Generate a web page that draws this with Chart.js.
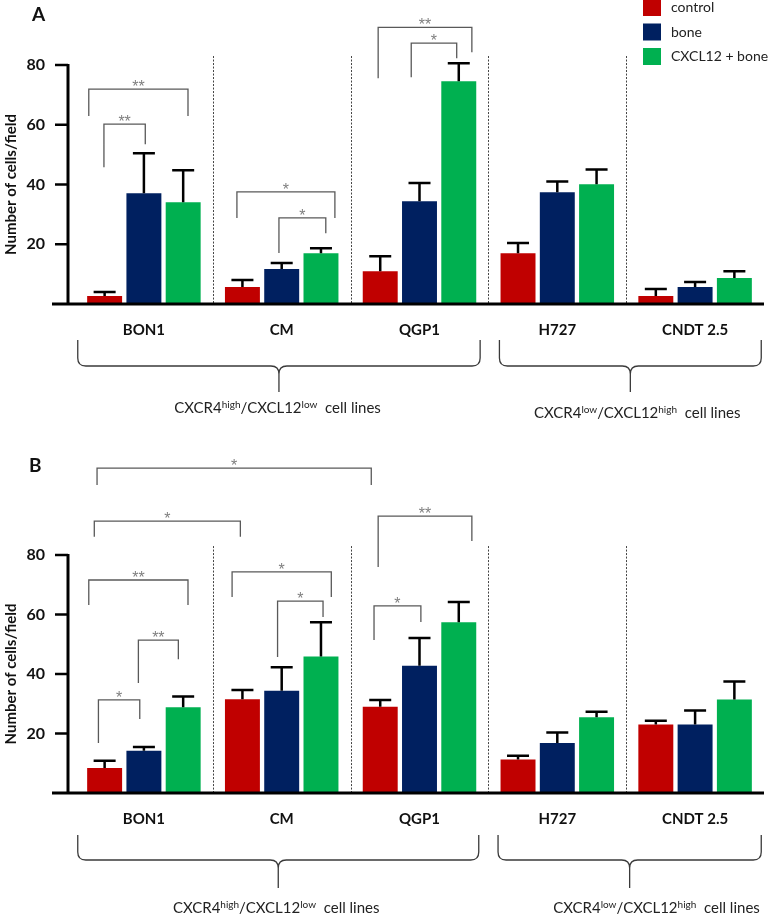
<!DOCTYPE html>
<html>
<head>
<meta charset="utf-8">
<script src="https://cdn.jsdelivr.net/npm/chart.js@4.4.1/dist/chart.umd.min.js"></script>
<style>
  html, body { margin: 0; padding: 0; background: #fff; }
  #wrap { position: relative; width: 772px; height: 917px; overflow: hidden; }
  canvas { position: absolute; left: 0; }
  #panelA { top: 0; }
  #panelB { top: 430px; }
</style>
</head>
<body>
<div id="wrap">
  <canvas id="panelA" width="772" height="430"></canvas>
  <canvas id="panelB" width="772" height="487"></canvas>
</div>
<script>
// categories and series
const cellLines = ['BON1', 'CM', 'QGP1', 'H727', 'CNDT 2.5'];
const seriesNames = ['control', 'bone', 'CXCL12 + bone'];
const yTickLabels = [20, 40, 60, 80];

// panel A: mean and error (upper SD) per cell line
const controlA = [2.7, 5.7, 11.0, 17.0, 2.7];
const boneA = [37.1, 11.7, 34.4, 37.4, 5.7];
const cxclBoneA = [34.1, 17.0, 74.6, 40.1, 8.7];
const controlErrA = [1.3, 2.3, 5.0, 3.4, 2.3];
const boneErrA = [13.4, 2.0, 6.1, 3.6, 1.7];
const cxclBoneErrA = [10.7, 1.7, 6.0, 4.9, 2.3];

// panel B
const controlB = [8.4, 31.5, 29.0, 11.3, 23.0];
const boneB = [14.2, 34.4, 42.8, 16.8, 23.0];
const cxclBoneB = [28.8, 45.9, 57.4, 25.5, 31.4];
const controlErrB = [2.4, 3.1, 2.3, 1.2, 1.3];
const boneErrB = [1.3, 7.9, 9.3, 3.5, 4.7];
const cxclBoneErrB = [3.6, 11.5, 6.8, 1.8, 6.1];

// significance brackets: [from, to (category units), top, left end, right end (value units), label]
const bracketsA = [
  [-0.40, 0.32, 71.9, 62.9, 62.9, '**'],
  [-0.29, 0.01, 60.2, 45.8, 53.5, '**'],
  [0.675, 1.386, 37.5, 28.8, 28.8, '*'],
  [0.98, 1.32, 28.8, 17.1, 23.7, '*'],
  [1.70, 2.38, 92.6, 75.6, 84.3, '**'],
  [1.94, 2.27, 87.3, 75.9, 82.3, '*']
];
const bracketsB = [
  [-0.34, 1.65, 109.2, 103.5, 103.5, '*'],
  [-0.36, 0.70, 91.4, 86.1, 86.1, '*'],
  [-0.40, 0.32, 71.6, 63.2, 63.2, '**'],
  [-0.04, 0.25, 51.4, 37.0, 45.0, '**'],
  [-0.33, -0.03, 31.3, 16.8, 24.9, '*'],
  [0.64, 1.36, 74.3, 65.9, 65.9, '*'],
  [0.97, 1.30, 64.5, 45.7, 59.2, '*'],
  [1.70, 2.38, 93.1, 76.0, 84.7, '**'],
  [1.67, 2.01, 62.9, 51.4, 57.5, '*']
];

const seriesColors = ['#C00000', '#002060', '#00B050'];

const highLow = [['CXCR4'], ['high', 1], ['/CXCL12'], ['low', 1], ['  cell lines']];
const lowHigh = [['CXCR4'], ['low', 1], ['/CXCL12'], ['high', 1], ['  cell lines']];

function drawRich(ctx, parts, cx, y) {
  const fMain = '15px Lato', fSup = '10px Lato';
  let w = 0;
  parts.forEach(p => { ctx.font = p[1] ? fSup : fMain; w += ctx.measureText(p[0]).width; });
  let cur = cx - w / 2;
  ctx.textAlign = 'left';
  ctx.textBaseline = 'alphabetic';
  ctx.fillStyle = '#222';
  parts.forEach(p => {
    ctx.font = p[1] ? fSup : fMain;
    ctx.fillText(p[0], cur, p[1] ? y - 5 : y);
    cur += ctx.measureText(p[0]).width;
  });
}

const decor = {
  id: 'decor',
  afterDatasetsDraw(chart, args, o) {
    const ctx = chart.ctx, x = chart.scales.x, y = chart.scales.y, area = chart.chartArea;
    const step = x.getPixelForValue(1) - x.getPixelForValue(0);
    const px = v => x.getPixelForValue(0) + v * step;
    const y0 = y.getPixelForValue(0);
    ctx.save();

    // dashed separators between cell lines
    ctx.strokeStyle = '#444';
    ctx.lineWidth = 1;
    ctx.setLineDash([2, 1.5]);
    for (let i = 0; i < cellLines.length - 1; i++) {
      const sx = Math.round(px(i + 0.5)) + 0.5;
      ctx.beginPath();
      ctx.moveTo(sx, y.getPixelForValue(83));
      ctx.lineTo(sx, y0);
      ctx.stroke();
    }
    ctx.setLineDash([]);

    // error bars
    ctx.strokeStyle = '#000';
    ctx.lineWidth = 2.5;
    chart.data.datasets.forEach((ds, di) => {
      chart.getDatasetMeta(di).data.forEach((bar, i) => {
        const yt = y.getPixelForValue(ds.data[i] + ds.errors[i]);
        ctx.beginPath();
        ctx.moveTo(bar.x, bar.y);
        ctx.lineTo(bar.x, yt);
        ctx.moveTo(bar.x - 11, yt);
        ctx.lineTo(bar.x + 11, yt);
        ctx.stroke();
      });
    });

    // axes
    const ax = area.left - 7;
    ctx.lineWidth = 3;
    ctx.beginPath();
    ctx.moveTo(ax, y0);
    ctx.lineTo(ax, y.getPixelForValue(80) - 1);
    ctx.stroke();
    ctx.beginPath();
    ctx.moveTo(ax - 16, y0);
    ctx.lineTo(area.right, y0);
    ctx.stroke();
    ctx.lineWidth = 2.5;
    y.ticks.forEach(t => {
      const ty = y.getPixelForValue(t.value);
      ctx.beginPath();
      ctx.moveTo(ax - 13, ty);
      ctx.lineTo(ax, ty);
      ctx.stroke();
    });

    // significance brackets
    ctx.lineWidth = 1.3;
    o.brackets.forEach(([a, b, top, dl, dr, lab]) => {
      const xa = px(a), xb = px(b), yt = y.getPixelForValue(top);
      ctx.strokeStyle = '#595959';
      ctx.beginPath();
      ctx.moveTo(xa, y.getPixelForValue(dl));
      ctx.lineTo(xa, yt);
      ctx.lineTo(xb, yt);
      ctx.lineTo(xb, y.getPixelForValue(dr));
      ctx.stroke();
      ctx.fillStyle = '#7f7f7f';
      ctx.font = '16px "Liberation Sans"';
      ctx.textAlign = 'center';
      ctx.textBaseline = 'alphabetic';
      ctx.fillText(lab, (xa + xb) / 2, yt + 3);
    });

    // braces with group labels
    ctx.strokeStyle = '#3a3a3a';
    ctx.lineWidth = 1.3;
    o.braces.forEach(br => {
      const xa = px(br.from), xb = px(br.to), xm = (xa + xb) / 2;
      const yT = area.bottom + o.brace[0], yH = area.bottom + o.brace[1], yP = area.bottom + o.brace[2];
      const r = 8;
      ctx.beginPath();
      ctx.moveTo(xa, yT);
      ctx.lineTo(xa, yH - r);
      ctx.quadraticCurveTo(xa, yH, xa + r, yH);
      ctx.lineTo(xm - r, yH);
      ctx.quadraticCurveTo(xm, yH, xm, yH + r);
      ctx.lineTo(xm, yP);
      ctx.moveTo(xm, yH + r);
      ctx.quadraticCurveTo(xm, yH, xm + r, yH);
      ctx.lineTo(xb - r, yH);
      ctx.quadraticCurveTo(xb, yH, xb, yH - r);
      ctx.lineTo(xb, yT);
      ctx.stroke();
      drawRich(ctx, br.text, px(br.textX), area.bottom + br.textY);
    });

    // legend
    if (o.legend) {
      chart.data.datasets.forEach((ds, i) => {
        const ly = -1 + i * 24.5;
        ctx.fillStyle = ds.backgroundColor;
        ctx.fillRect(643, ly, 18, 17);
        ctx.fillStyle = '#222';
        ctx.font = '14px Lato';
        ctx.textAlign = 'left';
        ctx.textBaseline = 'middle';
        ctx.fillText(ds.label, 671, ly + 8.5);
      });
    }

    // panel letter
    ctx.fillStyle = '#111';
    ctx.font = 'bold 19px Lato';
    ctx.textAlign = 'left';
    ctx.textBaseline = 'alphabetic';
    ctx.fillText(o.letter, o.letterPos[0], o.letterPos[1]);
    ctx.restore();
  }
};

function makePanel(id, values, errors, cfg) {
  const font = { family: 'Lato', size: 15, weight: 'bold' };
  new Chart(document.getElementById(id), {
    type: 'bar',
    data: {
      labels: cellLines,
      datasets: seriesNames.map((name, i) => ({
        label: name,
        data: values[i],
        errors: errors[i],
        backgroundColor: seriesColors[i],
        borderWidth: 0,
        categoryPercentage: 0.855,
        barPercentage: 0.89
      }))
    },
    options: {
      responsive: false,
      animation: false,
      layout: { padding: { top: cfg.top, right: 8, left: 0, bottom: 0 } },
      plugins: {
        legend: { display: false },
        tooltip: { enabled: false },
        decor: cfg
      },
      scales: {
        x: {
          grid: { display: false, drawTicks: false },
          border: { display: false },
          ticks: { font, color: '#111', padding: 17, maxRotation: 0, autoSkip: false },
          afterFit: s => { s.height = cfg.xHeight; }
        },
        y: {
          min: 0,
          max: 80,
          grid: { display: false, drawTicks: false },
          border: { display: false },
          afterBuildTicks: s => { s.ticks = yTickLabels.map(v => ({ value: v })); },
          ticks: { font: { family: 'Lato', size: 16, weight: 'bold' }, color: '#111', padding: 30 },
          title: { display: true, text: 'Number of cells/field', font, color: '#111', padding: { top: 2, bottom: 0 } },
          afterFit: s => { s.width = 75; }
        }
      }
    },
    plugins: [decor]
  });
}

makePanel('panelA',
  [controlA, boneA, cxclBoneA],
  [controlErrA, boneErrA, cxclBoneErrA],
  {
    top: 65, xHeight: 126, letter: 'A', letterPos: [32, 21], legend: true,
    brackets: bracketsA,
    brace: [36, 62, 88],
    braces: [
      { from: -0.48, to: 2.44, text: highLow, textX: 0.97, textY: 109 },
      { from: 2.58, to: 4.48, text: lowHigh, textX: 3.58, textY: 114 }
    ]
  });

makePanel('panelB',
  [controlB, boneB, cxclBoneB],
  [controlErrB, boneErrB, cxclBoneErrB],
  {
    top: 125, xHeight: 124, letter: 'B', letterPos: [29, 42], legend: false,
    brackets: bracketsB,
    brace: [42, 67, 95],
    braces: [
      { from: -0.48, to: 2.43, text: highLow, textX: 0.96, textY: 120 },
      { from: 2.57, to: 4.48, text: lowHigh, textX: 3.72, textY: 120 }
    ]
  });
</script>
</body>
</html>
